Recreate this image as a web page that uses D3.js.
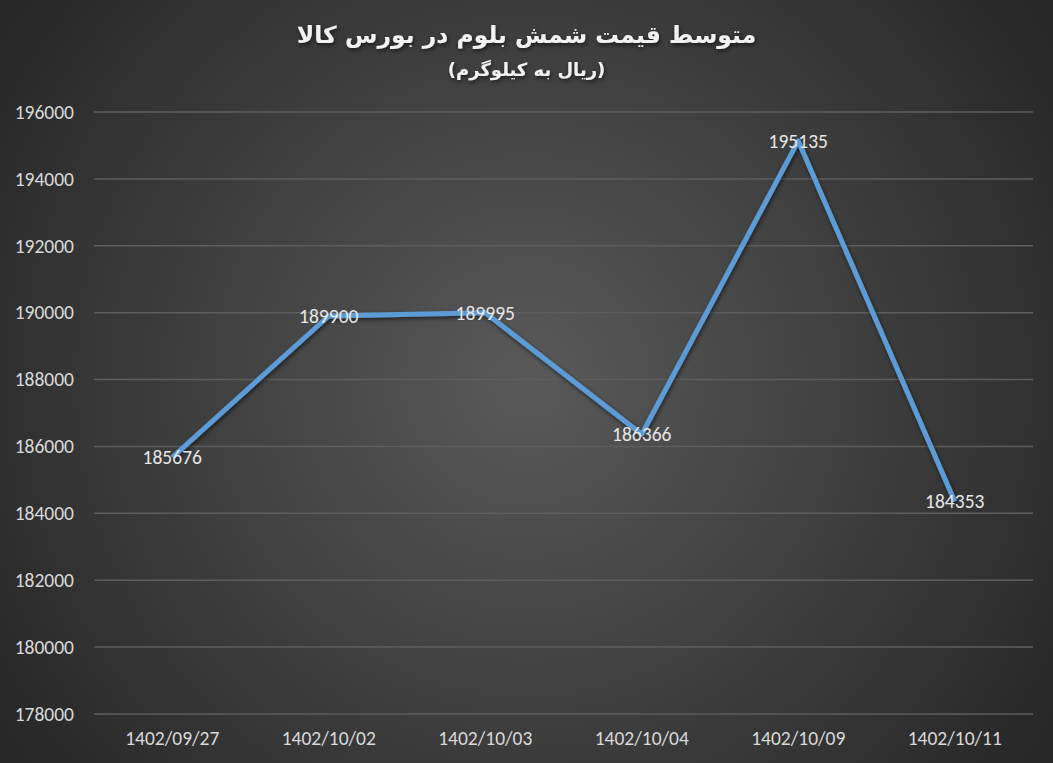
<!DOCTYPE html>
<html>
<head>
<meta charset="utf-8">
<script src="https://cdn.jsdelivr.net/npm/d3@7"></script>
<style>
  html, body { margin: 0; padding: 0; background: #2b2b2b; }
  svg { display: block; }
</style>
</head>
<body>
<svg width="1053" height="763"></svg>
<script>
(function (d3) {
  'use strict';

  var svg = d3.select('svg');
  var width = +svg.attr('width');
  var height = +svg.attr('height');

  // data
  var dates = ['1402/09/27', '1402/10/02', '1402/10/03', '1402/10/04', '1402/10/09', '1402/10/11'];
  var prices = [185676, 189900, 189995, 186366, 195135, 184353];
  var yTicks = [178000, 180000, 182000, 184000, 186000, 188000, 190000, 192000, 194000, 196000];

  var titleText = 'متوسط قیمت شمش بلوم در بورس کالا';
  var subtitleText = '(ریال به کیلوگرم)';

  var left = 94, right = 1033, top = 112, bottom = 714;
  var labelFont = 'Calibri, Carlito, Lato, "Open Sans", sans-serif';
  var labelSize = '19.5px';

  // background gradient
  var defs = svg.append('defs');
  var grad = defs.append('radialGradient')
      .attr('id', 'bg')
      .attr('gradientUnits', 'userSpaceOnUse')
      .attr('cx', width / 2).attr('cy', height / 2)
      .attr('r', 640);
  grad.append('stop').attr('offset', '0%').attr('stop-color', '#595959');
  grad.append('stop').attr('offset', '100%').attr('stop-color', '#262626');

  var shadow = defs.append('filter').attr('id', 'shadow')
      .attr('x', '-10%').attr('y', '-10%').attr('width', '120%').attr('height', '130%');
  shadow.append('feDropShadow')
      .attr('dx', 1).attr('dy', 2).attr('stdDeviation', 2)
      .attr('flood-color', '#000').attr('flood-opacity', 0.6);

  svg.append('rect')
      .attr('width', width).attr('height', height)
      .attr('fill', 'url(#bg)');

  // scales
  var x = d3.scaleBand().domain(dates).range([left, right]);
  var y = d3.scaleLinear().domain([178000, 196000]).range([bottom, top]);

  // gridlines
  svg.append('g').selectAll('line')
      .data(yTicks)
      .enter()
      .append('line')
      .attr('x1', left)
      .attr('x2', right)
      .attr('y1', function (d) { return y(d); })
      .attr('y2', function (d) { return y(d); })
      .attr('stroke', '#5e5e5e')
      .attr('stroke-width', 1.5);

  // y axis labels
  var yAxis = d3.axisLeft(y).tickValues(yTicks).tickSize(0).tickPadding(0)
      .tickFormat(function (d) { return String(d); });
  var yg = svg.append('g').attr('transform', 'translate(74,0)').call(yAxis);
  yg.select('.domain').remove();
  yg.selectAll('text')
      .attr('fill', '#d9d9d9')
      .style('font-family', labelFont)
      .style('font-size', labelSize);

  // x axis labels
  var xAxis = d3.axisBottom(x).tickSize(0).tickPadding(0);
  var xg = svg.append('g').attr('transform', 'translate(0,' + (bottom + 17) + ')').call(xAxis);
  xg.select('.domain').remove();
  xg.selectAll('text')
      .attr('fill', '#d9d9d9')
      .style('font-family', labelFont)
      .style('font-size', labelSize);

  // line
  var line = d3.line()
      .x(function (d, i) { return x(dates[i]) + x.bandwidth() / 2; })
      .y(function (d) { return y(d); });

  svg.append('path')
      .datum(prices)
      .attr('d', line)
      .attr('fill', 'none')
      .attr('stroke', '#5b9bd5')
      .attr('stroke-width', 5)
      .attr('stroke-linejoin', 'round')
      .attr('filter', 'url(#shadow)');

  // data labels (centred on the points)
  svg.append('g').selectAll('text')
      .data(prices)
      .enter()
      .append('text')
      .attr('x', function (d, i) { return x(dates[i]) + x.bandwidth() / 2; })
      .attr('y', function (d) { return y(d); })
      .attr('dy', '0.35em')
      .attr('text-anchor', 'middle')
      .attr('fill', '#e6e6e6')
      .style('font-family', labelFont)
      .style('font-size', labelSize)
      .text(function (d) { return d; });

  // titles
  svg.append('text')
      .attr('x', width / 2)
      .attr('y', 43)
      .attr('text-anchor', 'middle')
      .attr('direction', 'rtl')
      .attr('fill', '#f2f2f2')
      .attr('filter', 'url(#shadow)')
      .style('font-family', '"DejaVu Sans", Tahoma, sans-serif')
      .style('font-size', '23.5px')
      .style('font-weight', 'bold')
      .text(titleText);

  svg.append('text')
      .attr('x', width / 2)
      .attr('y', 76)
      .attr('text-anchor', 'middle')
      .attr('direction', 'rtl')
      .attr('fill', '#f2f2f2')
      .attr('filter', 'url(#shadow)')
      .style('font-family', '"DejaVu Sans", Tahoma, sans-serif')
      .style('font-size', '18px')
      .style('font-weight', 'bold')
      .text(subtitleText);

}(d3));
</script>
</body>
</html>
